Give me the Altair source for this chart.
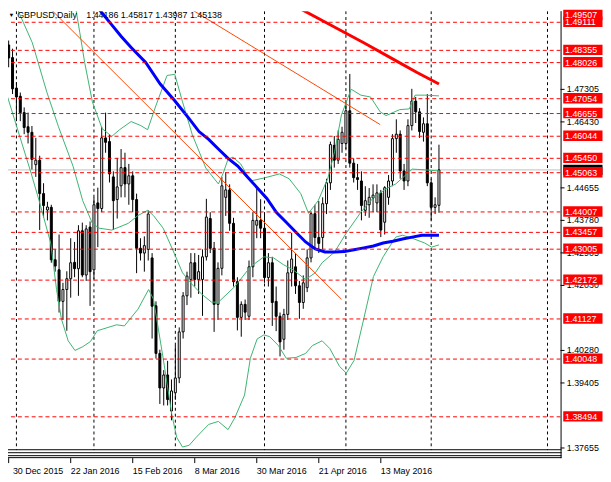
import altair as alt
import pandas as pd

# ---------------- data (bar index 0 = 30 Dec 2015 ... 111 = 3 Jun 2016) ----------------
opens = [1.4850, 1.4816, 1.4734, 1.4712, 1.4668, 1.4630, 1.4615, 1.4528, 1.4540, 1.4450,
         1.4406, 1.4413, 1.4272, 1.4245, 1.4160, 1.4192, 1.4221, 1.4265, 1.4248, 1.4350,
         1.4231, 1.4360, 1.4245, 1.4425, 1.4410, 1.4600, 1.4590, 1.4495, 1.4434, 1.4471,
         1.4520, 1.4476, 1.4498, 1.4434, 1.4303, 1.4290, 1.4300, 1.4277, 1.4148, 1.4020,
         1.3927, 1.3962, 1.3865, 1.3914, 1.3954, 1.4078, 1.4175, 1.4219, 1.4264, 1.4219,
         1.4219, 1.4280, 1.4383, 1.4303, 1.4152, 1.4249, 1.4440, 1.4460, 1.4370, 1.4213,
         1.4117, 1.4152, 1.4120, 1.4253, 1.4365, 1.4378, 1.4357, 1.4224, 1.4264, 1.4160,
         1.4120, 1.4058, 1.4125, 1.4237, 1.4253, 1.4202, 1.4157, 1.4197, 1.4277, 1.4396,
         1.4332, 1.4332, 1.4423, 1.4479, 1.4580, 1.4540, 1.4585, 1.4585, 1.4673, 1.4532,
         1.4493, 1.4484, 1.4405, 1.4420, 1.4438, 1.4425, 1.4452, 1.4373, 1.4440, 1.4484,
         1.4598, 1.4610, 1.4511, 1.4484, 1.4633, 1.4699, 1.4670, 1.4615, 1.4638, 1.4479,
         1.4413, 1.44186]
highs = [1.4862, 1.4840, 1.4750, 1.4722, 1.4682, 1.4668, 1.4632, 1.4600, 1.4552, 1.4478,
         1.4428, 1.4420, 1.4300, 1.4340, 1.4210, 1.4241, 1.4330, 1.4320, 1.4365, 1.4372,
         1.4365, 1.4375, 1.4440, 1.4466, 1.4630, 1.4668, 1.4610, 1.4510, 1.4546, 1.4570,
         1.4560, 1.4530, 1.4510, 1.4450, 1.4330, 1.4335, 1.4405, 1.4290, 1.4160, 1.4030,
         1.3975, 1.4000, 1.3950, 1.4042, 1.4090, 1.4185, 1.4240, 1.4290, 1.4290, 1.4285,
         1.4300, 1.4436, 1.4400, 1.4320, 1.4265, 1.4495, 1.4507, 1.4475, 1.4385, 1.4225,
         1.4160, 1.4165, 1.4270, 1.4400, 1.4463, 1.4435, 1.4400, 1.4290, 1.4280, 1.4200,
         1.4130, 1.4140, 1.4270, 1.4344, 1.4290, 1.4215, 1.4230, 1.4300, 1.4400, 1.4420,
         1.4430, 1.4440, 1.4490, 1.4590, 1.4605, 1.4620, 1.4630, 1.4695, 1.4772, 1.4545,
         1.4530, 1.4510, 1.4470, 1.4465, 1.4475, 1.4475, 1.4460, 1.4470, 1.4500, 1.4610,
         1.4650, 1.4620, 1.4530, 1.4650, 1.4732, 1.4710, 1.4680, 1.4655, 1.4718, 1.4490,
         1.4440, 1.45817]
lows = [1.4790, 1.4718, 1.4645, 1.4645, 1.4610, 1.4585, 1.4515, 1.4495, 1.4352, 1.4386,
        1.4378, 1.4264, 1.4240, 1.4130, 1.4110, 1.4081, 1.4170, 1.4225, 1.4175, 1.4225,
        1.4215, 1.4148, 1.4220, 1.4306, 1.4400, 1.4560, 1.4480, 1.4352, 1.4383, 1.4440,
        1.4440, 1.4420, 1.4400, 1.4236, 1.4270, 1.4240, 1.4270, 1.4060, 1.4006, 1.3884,
        1.3880, 1.3880, 1.3840, 1.3895, 1.3940, 1.4060, 1.4150, 1.4170, 1.4200, 1.4180,
        1.4121, 1.4270, 1.4290, 1.4078, 1.4110, 1.4230, 1.4390, 1.4350, 1.4200, 1.4082,
        1.4065, 1.4110, 1.4110, 1.4225, 1.4330, 1.4330, 1.4210, 1.4200, 1.4094, 1.4080,
        1.4012, 1.4030, 1.4110, 1.4200, 1.4180, 1.4113, 1.4140, 1.4185, 1.4265, 1.4300,
        1.4290, 1.4300, 1.4395, 1.4460, 1.4520, 1.4530, 1.4560, 1.4570, 1.4520, 1.4480,
        1.4460, 1.4378, 1.4390, 1.4385, 1.4400, 1.4400, 1.4333, 1.4340, 1.4420, 1.4470,
        1.4560, 1.4490, 1.4460, 1.4470, 1.4620, 1.4640, 1.4600, 1.4590, 1.4470, 1.4378,
        1.4395, 1.43987]
closes = [1.4815, 1.4732, 1.4710, 1.4668, 1.4628, 1.4615, 1.4542, 1.4540, 1.4450, 1.4418,
          1.4414, 1.4272, 1.4255, 1.4160, 1.4192, 1.4221, 1.4264, 1.4248, 1.4350, 1.4231,
          1.4355, 1.4240, 1.4420, 1.4410, 1.4600, 1.4588, 1.4503, 1.4431, 1.4468, 1.4520,
          1.4476, 1.4498, 1.4434, 1.4303, 1.4290, 1.4310, 1.4395, 1.4147, 1.4020, 1.3927,
          1.3962, 1.3896, 1.3919, 1.3954, 1.4078, 1.4175, 1.4228, 1.4264, 1.4219, 1.4240,
          1.4280, 1.4387, 1.4303, 1.4152, 1.4249, 1.4471, 1.4460, 1.4370, 1.4213, 1.4117,
          1.4152, 1.4131, 1.4253, 1.4378, 1.4378, 1.4357, 1.4224, 1.4264, 1.4157, 1.4120,
          1.4051, 1.4125, 1.4237, 1.4274, 1.4202, 1.4157, 1.4210, 1.4277, 1.4396, 1.4332,
          1.4316, 1.4423, 1.4479, 1.4582, 1.4540, 1.4596, 1.4615, 1.4673, 1.4532, 1.4493,
          1.4488, 1.4418, 1.4431, 1.4440, 1.4446, 1.4452, 1.4352, 1.4466, 1.4484, 1.4598,
          1.4610, 1.4511, 1.4484, 1.4633, 1.4699, 1.4670, 1.4617, 1.4638, 1.4479, 1.4413,
          1.4420, 1.45138]

date_labels = ["30 Dec 2015", "22 Jan 2016", "15 Feb 2016", "8 Mar 2016",
               "30 Mar 2016", "21 Apr 2016", "13 May 2016"]
date_label_bars = [0, 16, 32, 48, 64, 80, 96]
month_start_bars = [2, 22, 43, 66, 87, 109, 139]

level_prices = [1.49507, 1.49111, 1.48355, 1.48026, 1.47054, 1.46655, 1.46044, 1.45450,
                1.45063, 1.44007, 1.43457, 1.43005, 1.42172, 1.41127, 1.40048, 1.38494]
axis_ticks = [1.47305, 1.46430, 1.44655, 1.43780, 1.42905,
              1.42030, 1.40280, 1.39405, 1.37655]
bid_price = 1.45138

ma_blue_bar = [22.1, 24.1, 26.6, 29.1, 31.6, 35.35, 39.1, 42.85, 46.6, 49.1, 51.6, 54.1,
               56.6, 59.1, 61.6, 64.1, 66.6, 69.1, 71.6, 74.1, 76.6, 79.1, 81.6, 84.1,
               86.6, 89.1, 91.6, 94.1, 96.6, 99.1, 101.6, 104.1, 106.6, 109.1, 111.0]
ma_blue_val = [1.4962, 1.4936, 1.4904, 1.4872, 1.4843, 1.4803, 1.4745, 1.4700, 1.4651, 1.4617,
               1.4596, 1.4570, 1.4545, 1.4524, 1.4495, 1.4466, 1.4437, 1.4399, 1.4373, 1.4346,
               1.4320, 1.4301, 1.4293, 1.4293, 1.4294, 1.4299, 1.4304, 1.4309, 1.4317, 1.4322,
               1.4328, 1.4333, 1.4338, 1.4338, 1.4338]

ma_red_bar = [72.6, 81.6, 91.6, 99.85, 105.35, 111.0]
ma_red_val = [1.4962, 1.4912, 1.4856, 1.4808, 1.4776, 1.4745]

bb_up_bar = [17.1, 18.35, 19.6, 21.6, 24.1, 26.6, 28.6, 31.6, 34.1, 35.85, 37.85, 40.85,
             42.85, 44.85, 47.35, 50.85, 54.1, 55.35, 56.6, 57.85, 59.85, 62.35, 65.85,
             69.85, 72.35, 75.35, 77.35, 79.85, 82.35, 84.1, 85.85, 88.35, 90.85, 93.35,
             95.85, 97.35, 100.85, 103.35, 104.85, 107.35, 111.0]
bb_up_val = [1.4962, 1.4883, 1.4803, 1.4697, 1.4625, 1.4604, 1.4622, 1.4644, 1.4633, 1.4622,
             1.4683, 1.4768, 1.4771, 1.4697, 1.4609, 1.4519, 1.4476, 1.4505, 1.4543, 1.4548,
             1.4530, 1.4484, 1.4492, 1.4503, 1.4490, 1.4450, 1.4397, 1.4431, 1.4492, 1.4564,
             1.4662, 1.4731, 1.4715, 1.4710, 1.4670, 1.4660, 1.4676, 1.4678, 1.4715, 1.4715,
             1.4713]

bb_mid_bar = [1.6, 6.1, 9.85, 12.85, 16.6, 19.1, 21.6, 23.35, 26.6, 30.85, 33.35, 35.85,
              37.35, 39.85, 42.35, 44.85, 47.35, 49.85, 52.35, 54.1, 58.35, 62.35, 65.85,
              68.35, 70.85, 73.35, 76.6, 79.1, 80.85, 84.1, 87.1, 90.85, 94.1, 97.35, 99.85,
              104.1, 107.35, 111.0]
bb_mid_val = [1.4962, 1.4856, 1.4723, 1.4630, 1.4524, 1.4431, 1.4370, 1.4357, 1.4352, 1.4370,
              1.4391, 1.4405, 1.4391, 1.4357, 1.4298, 1.4237, 1.4205, 1.4179, 1.4158, 1.4158,
              1.4200, 1.4253, 1.4280, 1.4277, 1.4259, 1.4245, 1.4219, 1.4237, 1.4264, 1.4293,
              1.4344, 1.4400, 1.4439, 1.4463, 1.4476, 1.4516, 1.4514, 1.4511]

bb_low_bar = [-0.9, 5.85, 7.85, 10.85, 12.35, 13.6, 15.35, 17.1, 19.1, 21.1, 22.85, 27.85,
              29.85, 33.35, 36.1, 37.35, 39.85, 42.1, 43.35, 44.85, 46.6, 48.35, 51.6, 54.1,
              56.6, 58.35, 60.85, 62.35, 64.1, 65.85, 67.35, 69.6, 71.6, 74.1, 76.6, 78.35,
              80.85, 82.85, 85.35, 87.1, 89.1, 91.6, 94.1, 96.6, 99.85, 101.6, 104.1, 107.35,
              109.1, 111.0]
bb_low_val = [1.4731, 1.4503, 1.4431, 1.4317, 1.4192, 1.4113, 1.4054, 1.4028, 1.4038, 1.4052,
              1.4081, 1.4097, 1.4094, 1.4139, 1.4192, 1.4166, 1.4007, 1.3855, 1.3794, 1.3768,
              1.3773, 1.3794, 1.3829, 1.3837, 1.3815, 1.3847, 1.3908, 1.4007, 1.4059, 1.4070,
              1.4065, 1.4041, 1.4007, 1.4009, 1.4020, 1.4041, 1.4054, 1.4033, 1.3985, 1.3967,
              1.4001, 1.4113, 1.4227, 1.4280, 1.4333, 1.4338, 1.4330, 1.4317, 1.4306, 1.4312]

trend_a_bar = [9.35, 85.85]
trend_a_val = [1.4962, 1.41657]
trend_b_bar = [44.6, 95.85]
trend_b_val = [1.4962, 1.46357]

symbol_title = "GBPUSD,Daily"

# ---------------- chart ----------------
W, H = 560, 445
FONT = "Liberation Sans"
xs = alt.Scale(domain=[1.1, 141.1], nice=False, zero=False)
ys = alt.Scale(domain=[1.375944, 1.494106], nice=False, zero=False)


def X(f="k"):
    return alt.X(f + ":Q", scale=xs, axis=None)


def Y(f="p"):
    return alt.Y(f + ":Q", scale=ys, axis=None)


bars = pd.DataFrame({"k": list(range(len(opens))), "o": opens, "h": highs,
                     "l": lows, "c": closes})

grid_v = alt.Chart(pd.DataFrame({"k": month_start_bars})).mark_rule(
    color="black", strokeWidth=1, strokeDash=[3, 3], clip=True).encode(x=X())

bid_line = alt.Chart(pd.DataFrame({"p": [bid_price]})).mark_rule(
    color="#C0C0C0", strokeWidth=1, clip=True).encode(y=Y())

wicks = alt.Chart(bars).mark_rule(color="black", strokeWidth=1, clip=True).encode(
    x=X(), y=Y("l"), y2="h:Q")
bodies = alt.Chart(bars).mark_bar(size=2, stroke="black", strokeWidth=1, clip=True).encode(
    x=X(), y=Y("o"), y2="c:Q",
    fill=alt.condition("datum.c >= datum.o", alt.value("white"), alt.value("black")))

bb_df = pd.concat([
    pd.DataFrame({"k": bb_up_bar, "p": bb_up_val, "band": "upper"}),
    pd.DataFrame({"k": bb_mid_bar, "p": bb_mid_val, "band": "middle"}),
    pd.DataFrame({"k": bb_low_bar, "p": bb_low_val, "band": "lower"}),
])
bands = alt.Chart(bb_df).mark_line(color="#3CB371", strokeWidth=1, clip=True).encode(
    x=X(), y=Y(), detail="band:N")

tr_df = pd.concat([
    pd.DataFrame({"k": trend_a_bar, "p": trend_a_val, "line": "a"}),
    pd.DataFrame({"k": trend_b_bar, "p": trend_b_val, "line": "b"}),
])
trends = alt.Chart(tr_df).mark_line(color="#FF4500", strokeWidth=1, clip=True).encode(
    x=X(), y=Y(), detail="line:N")

ma_blue = alt.Chart(pd.DataFrame({"k": ma_blue_bar, "p": ma_blue_val})).mark_line(
    color="#0000FF", strokeWidth=3, clip=True).encode(x=X(), y=Y())
ma_red = alt.Chart(pd.DataFrame({"k": ma_red_bar, "p": ma_red_val})).mark_line(
    color="#FF0000", strokeWidth=3, clip=True).encode(x=X(), y=Y())

levels_df = pd.DataFrame({"p": level_prices})
levels = alt.Chart(levels_df).mark_rule(
    color="#FF0000", strokeWidth=1, strokeDash=[4, 3], clip=True).encode(y=Y())

one = pd.DataFrame({"a": [0]})
axis_line = alt.Chart(one).mark_rule(color="black", strokeWidth=1).encode(
    x=alt.value(560.5), y=alt.value(0), y2=alt.value(453))
bottom_lines = [
    alt.Chart(one).mark_rule(color="black", strokeWidth=1).encode(
        y=alt.value(v), x=alt.value(0), x2=alt.value(561))
    for v in (444.5, 447.5, 450.5, 452.5)
]

ticks_df = pd.DataFrame({"p": axis_ticks, "t": [f"{v:.5f}" for v in axis_ticks]})
tick_marks = alt.Chart(ticks_df).mark_rule(color="black", strokeWidth=1).encode(
    y=Y(), x=alt.value(560), x2=alt.value(564))
tick_text = alt.Chart(ticks_df).mark_text(
    align="left", baseline="middle", font=FONT, fontSize=9, color="black").encode(
    y=Y(), x=alt.value(566.3), text="t:N")

bid_box = alt.Chart(pd.DataFrame({"p": [bid_price]})).mark_rule(
    color="black", strokeWidth=10.5).encode(y=Y(), x=alt.value(562.7), x2=alt.value(602.5))

# labels sorted low -> high so the top label is drawn last; the top one is kept inside the view
lvl_lab = pd.DataFrame({"p": sorted(level_prices)})
lvl_lab["t"] = [f"{v:.5f}" for v in lvl_lab["p"]]
lbl_base = alt.Chart(lvl_lab).transform_calculate(lp="min(datum.p, 1.49298)")
level_boxes = lbl_base.mark_rule(color="#FF0000", strokeWidth=10.5, yOffset=-0.5).encode(
    y=Y("lp"), x=alt.value(562.7), x2=alt.value(602.5))
level_text = lbl_base.mark_text(
    align="left", baseline="middle", font=FONT, fontSize=9, color="white").encode(
    y=Y("lp"), x=alt.value(564.5), text="t:N")

dates_df = pd.DataFrame({"k": date_label_bars, "t": date_labels})
date_ticks = alt.Chart(dates_df).mark_rule(color="black", strokeWidth=1).encode(
    x=X(), y=alt.value(453), y2=alt.value(458))
date_text = alt.Chart(dates_df).transform_calculate(kx="max(datum.k, 1.1)").mark_text(
    align="left", baseline="alphabetic", font=FONT, fontSize=9, color="black").encode(
    x=X("kx"), y=alt.value(469.5), text="t:N")

last = len(closes) - 1
hdr_nums = f"{opens[last]:.5f} {highs[last]:.5f} {lows[last]:.5f} {closes[last]:.5f}"
header = alt.Chart(pd.DataFrame({"t": [symbol_title], "n": [hdr_nums]}))
header_a = header.mark_text(align="left", baseline="alphabetic", font=FONT, fontSize=9,
                            color="black").encode(x=alt.value(9.3), y=alt.value(6.6), text="t:N")
header_b = header.mark_text(align="left", baseline="alphabetic", font=FONT, fontSize=9,
                            color="black").encode(x=alt.value(79.3), y=alt.value(6.6), text="n:N")
header_tri = header.mark_text(align="center", baseline="alphabetic", fontSize=6,
                              color="black").encode(x=alt.value(3.5), y=alt.value(5.5),
                                                    text=alt.value("▼"))

chart = alt.layer(
    grid_v, bid_line, wicks, bodies, bands, trends, ma_blue, ma_red, levels,
    axis_line, *bottom_lines, tick_marks, tick_text, bid_box, level_boxes, level_text,
    date_ticks, date_text, header_a, header_b, header_tri,
).properties(
    width=W, height=H,
    autosize=alt.AutoSizeParams(type="none"),
    padding={"left": 0, "top": 0, "right": 43, "bottom": 29},
    background="white",
).configure_view(stroke=None)

chart.save("out.html", embed_options={"renderer": "svg", "actions": False})
